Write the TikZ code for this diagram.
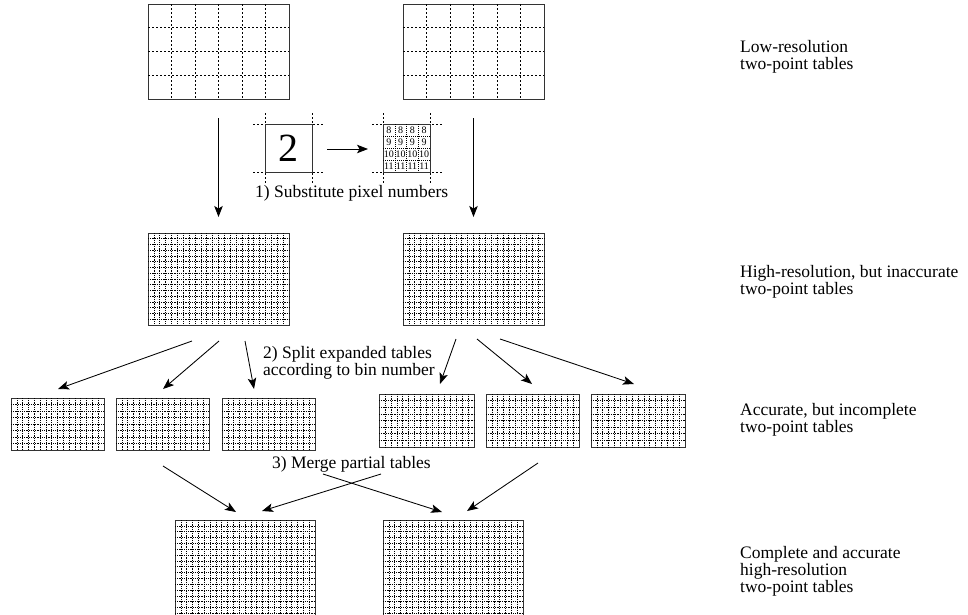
\documentclass[tikz,border=0pt]{standalone}
\usepackage{fontspec}
\setmainfont{Liberation Serif}
\usetikzlibrary{arrows.meta,calc}
\newcommand\tablenode[6][]{\node[frame,#1,minimum width={(#5-#3)*1pt},minimum height={(#6-#4)*1pt}] (#2) at ({(#3+#5)/2},{(#4+#6)/2}) {};}
\newcommand\tabgrid[4]{%
  \pgfmathtruncatemacro\tgnc{#2-1}\pgfmathtruncatemacro\tgnr{#3-1}%
  \foreach \i in {1,...,\tgnc}{\draw[#4] ($(#1.north west)!\i/#2!(#1.north east)$) -- ($(#1.south west)!\i/#2!(#1.south east)$);}%
  \foreach \j in {1,...,\tgnr}{\draw[#4] ($(#1.north west)!\j/#3!(#1.south west)$) -- ($(#1.north east)!\j/#3!(#1.south east)$);}%
}
\newcommand\lblines[1]{\begin{tabular}[t]{@{}l@{}}#1\end{tabular}}
\begin{document}
\begin{tikzpicture}[x=1pt,y=-1pt,
  frame/.style={draw=black!80, line width=1pt, inner sep=0pt, outer sep=0pt},
  coarse/.style={black, line width=0.75pt, dash pattern=on 2pt off 2pt},
  fine/.style={black, line width=0.6pt, dash pattern=on 1.2pt off 1pt},
  arr/.style={-{Stealth[length=11pt,width=8.5pt,inset=2.5pt]}, line width=0.85pt},
  lbl/.style={font=\fontsize{17.5}{16.5}\selectfont, inner sep=0pt, anchor=base west},
  num/.style={font=\fontsize{10}{10}\selectfont, inner sep=0pt}]
\path[use as bounding box] (0,0) rectangle (968,614);
\clip (0,0) rectangle (968,614);

% low-resolution tables
\tablenode{t1}{148}{4}{289}{99}
\tablenode{t2}{403}{4}{544}{99}
\tabgrid{t1}{6}{4}{coarse}
\tabgrid{t2}{6}{4}{coarse}

% high-resolution tables
\tablenode{m1}{148}{233}{289}{325}
\tablenode{m2}{403}{233}{544}{325}
\tabgrid{m1}{24}{16}{fine}
\tabgrid{m2}{24}{16}{fine}

% partial tables
\tablenode{p1}{11}{398}{104}{450}
\tablenode{p2}{116}{398}{209}{450}
\tablenode{p3}{222}{398}{315}{450}
\tablenode{p4}{379}{394}{474}{447}
\tablenode{p5}{486}{394}{579}{447}
\tablenode{p6}{591}{394}{685}{447}
\foreach \p in {p1,p2,p3,p4,p5,p6}{\tabgrid{\p}{16}{8}{fine}}

% complete tables
\tablenode{c1}{175}{520}{315}{660}
\tablenode{c2}{383}{520}{523}{660}
\tabgrid{c1}{24}{24}{fine}
\tabgrid{c2}{24}{24}{fine}

% inset
\draw[coarse] (253,124) -- (323,124) (253,172) -- (323,172) (265,113) -- (265,183) (312,113) -- (312,183);
\draw[coarse] (372,124) -- (442,124) (372,172) -- (442,172) (383,113) -- (383,183) (430,113) -- (430,183);
\tablenode{b1}{265}{124}{312}{172}
\node[font=\fontsize{40}{40}\selectfont, inner sep=0pt] (two) at (b1.center) {2};
\tablenode{b2}{383}{124}{430}{172}
\tabgrid{b2}{4}{4}{black, line width=0.5pt, dash pattern=on 1pt off 1pt}
\foreach \r in {0,...,3}{\foreach \c in {0,...,3}{
  \pgfmathtruncatemacro\v{8+\r}
  \node[num] (n\r\c) at ({383+(\c+0.5)*11.75},{124+(\r+0.5)*12}) {\v};}}
\coordinate (ia) at (327,149);
\coordinate (ib) at (368,149);
\draw[arr] (ia) -- (ib);
\node[lbl] (s1) at (255,197) {1) Substitute pixel numbers};

% step arrows
\coordinate (d1s) at (218.5,118); \coordinate (d1e) at (218.5,217);
\coordinate (d2s) at (473.5,118); \coordinate (d2e) at (473.5,217);
\draw[arr] (d1s) -- (d1e);
\draw[arr] (d2s) -- (d2e);

\coordinate (x1s) at (192,341); \coordinate (x1e) at (58,389);
\coordinate (x2s) at (219,341); \coordinate (x2e) at (163,389);
\coordinate (x3s) at (245,341); \coordinate (x3e) at (254,389);
\coordinate (x4s) at (456,339); \coordinate (x4e) at (440,384);
\coordinate (x5s) at (477,339); \coordinate (x5e) at (532,384);
\coordinate (x6s) at (500,339); \coordinate (x6e) at (634,384);
\foreach \k in {1,...,6}{\draw[arr] (x\k s) -- (x\k e);}
\node[lbl] (s2) at (263,358) {\lblines{2) Split expanded tables\\according to bin number}};

\coordinate (g1s) at (163,466); \coordinate (g1e) at (236,512);
\coordinate (g2s) at (381,474); \coordinate (g2e) at (262,511);
\coordinate (g3s) at (323,474); \coordinate (g3e) at (442,512);
\coordinate (g4s) at (538,463); \coordinate (g4e) at (467,511);
\foreach \k in {1,...,4}{\draw[arr] (g\k s) -- (g\k e);}
\node[lbl] (s3) at (272,468) {3) Merge partial tables};

% right-hand labels
\node[lbl] (r1) at (740,52) {\lblines{Low-resolution\\two-point tables}};
\node[lbl] (r2) at (740,277) {\lblines{High-resolution, but inaccurate\\two-point tables}};
\node[lbl] (r3) at (740,415) {\lblines{Accurate, but incomplete\\two-point tables}};
\node[lbl] (r4) at (740,558) {\lblines{Complete and accurate\\high-resolution\\two-point tables}};
\end{tikzpicture}
\end{document}
